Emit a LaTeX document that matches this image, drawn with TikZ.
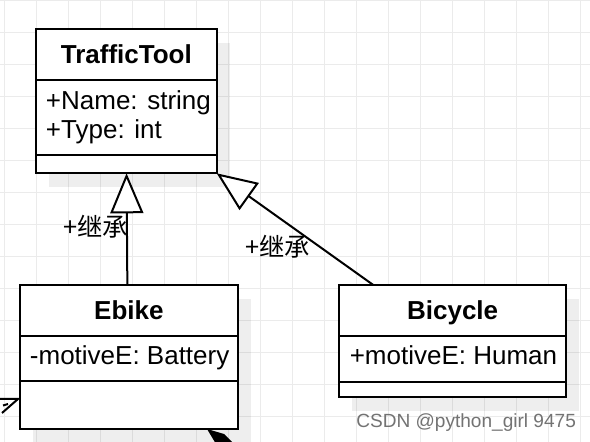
\documentclass[tikz,border=0pt]{standalone}
\usepackage{fontspec}
\setmainfont{Liberation Sans}
\newfontfamily\cjk{Noto Sans CJK SC}
\usetikzlibrary{arrows.meta,calc}
\begin{document}
\begin{tikzpicture}[x=0.75pt,y=-0.75pt,
  umlbox/.style={draw=black,fill=white,line width=1.5pt,inner sep=0pt,outer sep=0pt},
  shadowbox/.style={fill=black,opacity=0.065},
  sepline/.style={line width=1.5pt},
  title/.style={font=\fontsize{19.5pt}{23pt}\selectfont\bfseries,inner sep=0pt,anchor=base},
  attr/.style={font=\fontsize{19.5pt}{23pt}\selectfont,inner sep=0pt,anchor=base west},
  inh/.style={line width=1.5pt,-{Triangle[open,length=30pt,width=24.75pt,fill=white]}},
  lbl/.style={font=\cjk\fontsize{19pt}{22pt}\selectfont,inner sep=0pt,anchor=west},
  gridline/.style={draw=black!8,line width=0.75pt}]
\useasboundingbox (0,0) rectangle (590,442);
\fill[white] (0,0) rectangle (590,442);
\foreach \x in {4.5,36.5,...,590} \draw[gridline] (\x,0) -- (\x,442);
\foreach \y in {0.5,32.5,...,442} \draw[gridline] (0,\y) -- (590,\y);
% shadows
\fill[shadowbox] (49,43.3) rectangle (229.7,187.3);
\fill[shadowbox] (33,299) rectangle (250.7,443.3);
\fill[shadowbox] (352.3,299) rectangle (579,411);
% boxes
\node[umlbox,minimum width=135.5pt,minimum height=108pt] (tt) at (126.35,101.3) {};
\node[umlbox,minimum width=163.3pt,minimum height=108.2pt] (eb) at (128.85,357.15) {};
\node[umlbox,minimum width=170pt,minimum height=84pt] (bc) at (452.65,341) {};
\draw[sepline] (36,80) -- (216.7,80);
\draw[sepline] (36,155) -- (216.7,155);
\draw[sepline] (20,335.7) -- (237.7,335.7);
\draw[sepline] (20,381) -- (237.7,381);
\draw[sepline] (339.3,335.7) -- (566,335.7);
\draw[sepline] (339.3,381.7) -- (566,381.7);
% texts
\node[title] (ttt) at (126.35,63.3) {TrafficTool};
\node[attr] (tta1) at (45.7,109.3) {+Name: string};
\node[attr] (tta2) at (45.7,138.5) {+Type: int};
\node[title] (ebt) at (128.85,319.3) {Ebike};
\node[attr] (eba) at (29.7,365) {-motiveE: Battery};
\node[title] (bct) at (452.65,319.3) {Bicycle};
\node[attr] (bca) at (349.5,365) {+motiveE: Human};
% connectors
\draw[inh] ($(eb.north)+(-1.5,0)$) -- ($(tt.south)+(0.2,0)$);
\draw[inh] ($(bc.north west)+(34,0)$) -- (tt.south east);
\node[lbl] (l1) at (63,226.7) {+继承};
\node[lbl] (l2) at (245,246.7) {+继承};
% fragments at the bottom
\draw[line width=1.5pt] (0,399) -- (18,399) -- (2,413);
\draw[line width=1.5pt] (3,405.5) -- (8,404);
\fill[black] (207,429) -- (224,434) -- (234,444) -- (216,444) -- cycle;
% watermark
\node[font=\fontsize{14.3pt}{17pt}\selectfont,text=black!55,inner sep=0pt,anchor=base west] (wm) at (356,428) {CSDN @python\_girl 9475};
\end{tikzpicture}
\end{document}
